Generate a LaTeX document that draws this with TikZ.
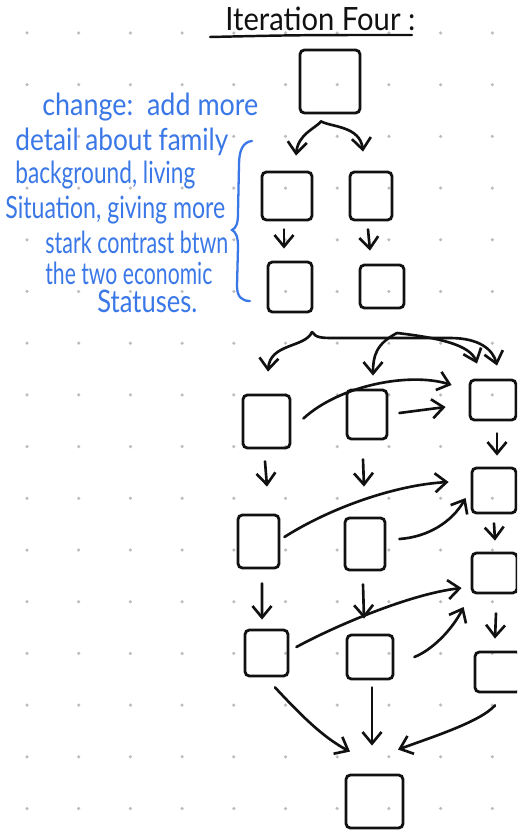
\documentclass[tikz,border=0pt]{standalone}
\usepackage{fontspec}
\setmainfont{Lato}
\usepackage{graphicx}
\usetikzlibrary{arrows.meta,calc}
\definecolor{ink}{HTML}{111111}
\definecolor{notecol}{HTML}{3B78E7}
\definecolor{griddot}{HTML}{BDBDBD}

\begin{document}
\begin{tikzpicture}[x=0.02cm,y=-0.02cm,
  box/.style={draw=ink,line width=1.6pt,rounded corners=2.5pt,inner sep=0pt},
  sz/.style 2 args={minimum width=#1*0.02cm,minimum height=#2*0.02cm},
  arr/.style={draw=ink,line width=1.5pt,line cap=round,
    -{Straight Barb[length=2.3mm,width=3.8mm,line width=1.5pt]}},
  noteline/.style={draw=notecol,line width=1.3pt,line cap=round},
  notetext/.style={text=notecol,anchor=base west,inner sep=0pt},
  titletext/.style={text=ink,anchor=base west,inner sep=0pt}]

% page and dotted paper
\useasboundingbox (0,0) rectangle (517,830);
\clip (0,0) rectangle (517,830);
\fill[white] (0,0) rectangle (517,830);
\foreach \i in {0,...,9}
  \foreach \j in {0,...,15}
    \fill[griddot] (27+51.7*\i,33+51.7*\j) circle[radius=0.035cm];

% heading
\node[titletext] (title) at (225,31) {\resizebox{3.8cm}{0.47cm}{Iteration Four :}};
\draw[ink,line width=1.4pt,line cap=round] (210,37) .. controls (300,35) .. (412,35);

% side note, one box per written line
\newcommand{\noteline}[2]{\resizebox{#1}{0.45cm}{#2}}
\node[notetext] (n1) at (42,116) {\noteline{4.32cm}{change:\ \ add more}};
\node[notetext] (n2) at (15,151) {\noteline{4.26cm}{detail about family}};
\node[notetext] (n3) at (15,184) {\noteline{3.6cm}{background, living}};
\node[notetext] (n4) at (5,219) {\noteline{4.4cm}{Situation, giving more}};
\node[notetext] (n5) at (45,254) {\noteline{3.66cm}{stark contrast btwn}};
\node[notetext] (n6) at (45,285) {\noteline{3.34cm}{the two economic}};
\node[notetext] (n7) at (97,313) {\noteline{2.0cm}{Statuses.}};
\draw[noteline] (252,141) .. controls (243,142) and (239,150) .. (239,165)
  -- (238,213) .. controls (238,224) and (236,228) .. (232,230)
  .. controls (236,232) and (238,237) .. (238,247)
  -- (237,286) .. controls (237,297) and (242,301) .. (250,301);

% upper flow
\node[box,sz={60}{63}] (top) at (330,81.5) {};
\node[box,sz={50}{48}] (L2) at (287,196) {};
\node[box,sz={42}{48}] (R2) at (371,196) {};
\node[box,sz={44}{50}] (L3) at (290,287) {};
\node[box,sz={44}{43}] (R3) at (382,286.5) {};

\coordinate (fork) at ($(top.south)+(-9,7)$);
\draw[arr] (fork) .. controls (316,128) and (298,134) .. ($(L2.north)+(9,-15)$);
\draw[arr] (fork) .. controls (331,127) and (360,126) .. ($(R2.north)+(-8,-19)$);
\draw[arr] ($(L2.south)+(-3,8)$) -- ($(L3.north)+(-6,-12)$);
\draw[arr] ($(R2.south)+(-3,8)$) -- ($(R3.north)+(-12,-13)$);

% lower flow
\node[box,sz={47}{53}] (A1) at (266.5,421.5) {};
\node[box,sz={40}{49}] (A2) at (367,414.5) {};
\node[box,sz={46}{40}] (A3) at (493,400) {};
\node[box,sz={41}{53}] (B1) at (258.5,541.5) {};
\node[box,sz={40}{52}] (B2) at (365,544) {};
\node[box,sz={44}{45}] (B3) at (494,490.5) {};
\node[box,sz={43}{46}] (C1) at (266.5,653) {};
\node[box,sz={46}{44}] (C2) at (370,657) {};
\node[box,sz={45}{40}] (C3) at (494.5,573) {};
\node[box,sz={46}{40}] (D3) at (498,672) {};
\node[box,sz={57}{53}] (F) at (374.5,801.5) {};

% branching brace above the lower flow
\coordinate (cuspA) at (312,332);
\coordinate (cuspB) at (397,333);
\draw[arr] (cuspA) .. controls (305,348) and (270,343) .. ($(A1.north)+(1.5,-22)$);
\draw[arr] (cuspA) .. controls (316,338) and (322,338) .. (335,338) -- (450,338)
  .. controls (480,338) and (493,350) .. ($(A3.north)+(4,-13)$);
\draw[arr] (cuspB) .. controls (376,344) and (373,356) .. ($(A2.north)+(6,-13)$);
\draw[arr] (cuspB) .. controls (440,338) and (470,345) .. ($(A3.north)+(-16,-15)$);

% row A
\draw[arr] ($(A1.east)+(12,-3)$) .. controls (340,385) and (410,372) .. ($(A3.west)+(-17,-15)$);
\draw[arr] ($(A2.east)+(11,-1.5)$) -- ($(A3.west)+(-23,7)$);
\draw[arr] ($(A3.south)+(4,12)$) -- ($(B3.north)+(3,-11)$);
\draw[arr] ($(A1.south)+(-1.5,12)$) -- ($(B1.north)+(8.5,-27)$);
\draw[arr] ($(A2.south)+(-4,19)$) -- ($(B2.north)+(-1,-30)$);

% row B
\draw[arr] ($(B1.east)+(4,-4.5)$) .. controls (330,508) and (395,485) .. ($(B3.west)+(-22,-8.5)$);
\draw[arr] ($(B2.east)+(13,-5)$) .. controls (428,537) and (452,522) .. ($(B3.west)+(-5,7.5)$);
\draw[arr] ($(B3.south)+(0,9)$) -- ($(C3.north)+(0.5,-11)$);
\draw[arr] ($(B1.south)+(3.5,14)$) -- ($(C1.north)+(-4.5,-9)$);
\draw[arr] ($(B2.south)+(-2,13)$) -- ($(C2.north)+(-6,-15)$);

% row C
\draw[arr] ($(C1.east)+(7,-6)$) .. controls (335,626) and (410,594) .. ($(C3.west)+(-9,15)$);
\draw[arr] ($(C2.east)+(20,0)$) .. controls (432,650) and (452,630) .. ($(C3.west)+(-7,34)$);
\draw[arr] ($(C3.south)+(1.5,19)$) -- ($(D3.north)+(-3,-12)$);

% into the last box
\draw[arr] ($(C1.south)+(8.5,10)$) .. controls (298,712) and (322,737) .. ($(F.north)+(-24.5,-22)$);
\draw[arr] ($(C2.south)+(2,7)$) -- ($(F.north)+(-2.5,-28)$);
\draw[arr] ($(D3.south)+(-3,12)$) .. controls (480,722) and (432,737) .. ($(F.north)+(23.5,-24)$);
\end{tikzpicture}
\end{document}
